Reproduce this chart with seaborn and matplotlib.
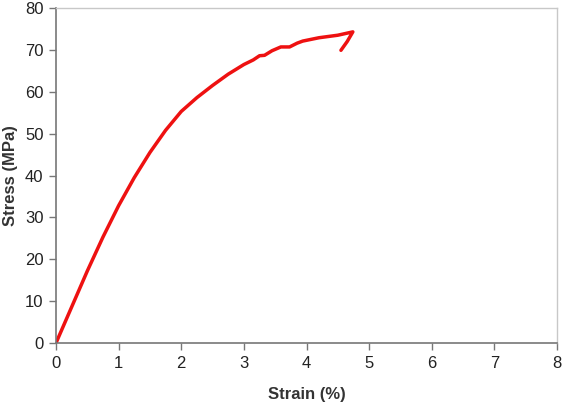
import matplotlib
matplotlib.use("Agg")
import matplotlib.pyplot as plt
import seaborn as sns
import pandas as pd

strain = [0, 0.25, 0.5, 0.75, 1.0, 1.25, 1.5, 1.75, 2.0, 2.25, 2.5, 2.75,
          3.0, 3.15, 3.25, 3.33, 3.45, 3.59, 3.73, 3.85, 3.94, 4.2, 4.5, 4.74,
          4.65, 4.55]
stress = [0, 8.6, 17.2, 25.3, 32.8, 39.5, 45.5, 50.8, 55.3, 58.6, 61.5, 64.2,
          66.5, 67.6, 68.6, 68.7, 69.8, 70.7, 70.7, 71.6, 72.1, 72.9, 73.5, 74.3,
          72.0, 69.9]
xticks = [0, 1, 2, 3, 4, 5, 6, 7, 8]
yticks = [0, 10, 20, 30, 40, 50, 60, 70, 80]

df = pd.DataFrame({"strain": strain, "stress": stress})

sns.set_theme(style="white")
plt.rcParams["font.family"] = ["Liberation Sans", "DejaVu Sans"]

fig = plt.figure(figsize=(5.65, 4.07), dpi=100)
ax = fig.add_axes([56/565, 1 - 343/407, (557-56)/565, (343-8)/407])

sns.lineplot(data=df, x="strain", y="stress", sort=False, color="#ee1111",
             linewidth=2.5, ax=ax, estimator=None)
for l in ax.lines:
    l.set_solid_joinstyle("round")
    l.set_solid_capstyle("round")

ax.set_xlim(0, 8)
ax.set_ylim(0, 80)
ax.set_xticks(xticks)
ax.set_yticks(yticks)
ax.tick_params(axis="both", which="both", direction="out", length=5, width=1,
               color="#777777", labelsize=12, labelcolor="#222222", pad=4,
               bottom=True, left=True)
for s in ["left", "bottom"]:
    ax.spines[s].set_color("#777777")
    ax.spines[s].set_linewidth(1.2)
for s in ["top", "right"]:
    ax.spines[s].set_color("#c8c8c8")
    ax.spines[s].set_linewidth(1.0)
ax.set_xlabel("Strain (%)", fontsize=12, fontweight="bold", color="#333333", labelpad=12)
ax.set_ylabel("Stress (MPa)", fontsize=12, fontweight="bold", color="#333333", labelpad=5)

fig.savefig("out.png", dpi=100)
